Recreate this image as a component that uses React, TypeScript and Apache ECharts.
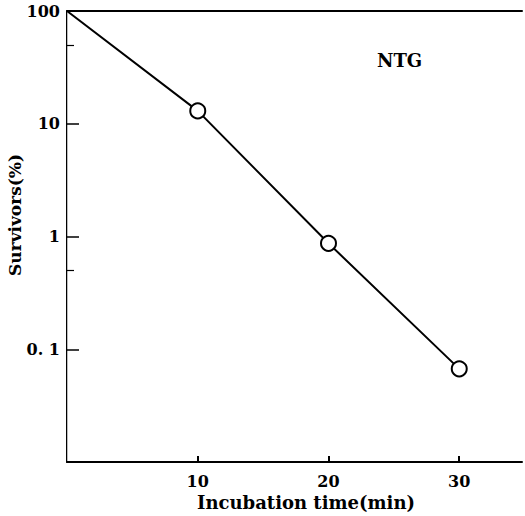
import React, { useEffect, useRef } from "react";
import * as echarts from "echarts";

const times = [0, 10, 20, 30];
const survivors = [100, 13, 0.87, 0.067];
const markerFlags = [false, true, true, true];
const xTicks = [10, 20, 30];
const yMinorTicks = [50, 0.5];
const yTickLabels: Record<string, string> = { "100": "100", "10": "10", "1": "1", "0.1": "0. 1" };
const titleText = "NTG";
const xName = "Incubation time(min)";
const yName = "Survivors(%)";

const FONT = "'DejaVu Serif', 'Liberation Serif', serif";

export default function App() {
  const ref = useRef<HTMLDivElement>(null);
  useEffect(() => {
    if (!ref.current) return;
    const chart = echarts.init(ref.current, null, { renderer: "svg" });
    const data = times.map((t, i) => ({
      value: [t, survivors[i]],
      symbol: markerFlags[i] ? "circle" : "none",
    }));
    const labelStyle = { fontFamily: FONT, fontWeight: "bold", fontSize: 16, color: "#000" };
    chart.setOption({
      animation: false,
      backgroundColor: "#fff",
      grid: { left: 67, right: 3, top: 11, bottom: 54 },
      graphic: [
        {
          type: "text",
          x: 377,
          y: 60,
          style: {
            text: titleText,
            font: `bold 18px ${FONT}`,
            fill: "#000",
            textVerticalAlign: "middle",
          } as any,
        },
        {
          type: "text",
          x: 306,
          y: 502,
          style: {
            text: xName,
            font: `bold 18px ${FONT}`,
            fill: "#000",
            textAlign: "center",
            textVerticalAlign: "middle",
          } as any,
        },
        {
          type: "text",
          x: 15,
          y: 215,
          rotation: Math.PI / 2,
          style: {
            text: yName,
            font: `bold 17px ${FONT}`,
            fill: "#000",
            textAlign: "center",
            textVerticalAlign: "middle",
          } as any,
        },
      ],
      xAxis: [
        {
          type: "value",
          min: 0,
          max: 34.8,
          interval: 5,
          axisLine: { show: true, lineStyle: { color: "#000", width: 2 } },
          axisTick: {
            show: true,
            inside: true,
            length: 6,
            lineStyle: { color: "#000", width: 2 },
            customValues: xTicks,
          },
          axisLabel: {
            show: true,
            customValues: xTicks,
            margin: 11,
            ...labelStyle,
          },
          splitLine: { show: false },
        },
        {
          type: "value",
          position: "top",
          min: 0,
          max: 34.8,
          axisLine: { show: true, onZero: false, lineStyle: { color: "#000", width: 2 } },
          axisTick: { show: false },
          axisLabel: { show: false },
          splitLine: { show: false },
        },
      ],
      yAxis: [
        {
          type: "log",
          logBase: 10,
          min: 0.01,
          max: 100,
          axisLine: { show: true, lineStyle: { color: "#000", width: 2 } },
          axisTick: { show: true, inside: true, length: 12, lineStyle: { color: "#000", width: 1.5 } },
          axisLabel: {
            margin: 7,
            ...labelStyle,
            formatter: (v: number) => {
              const k = String(+v.toPrecision(3));
              return yTickLabels[k] ?? "";
            },
          },
          splitLine: { show: false },
        },
        {
          type: "log",
          logBase: 10,
          min: 0.01,
          max: 100,
          position: "right",
          axisLine: { show: true, lineStyle: { color: "#bbb", width: 1 } },
          axisTick: { show: false },
          axisLabel: { show: false },
          splitLine: { show: false },
        },
        {
          type: "log",
          logBase: 10,
          min: 0.01,
          max: 100,
          position: "left",
          axisLine: { show: false },
          axisTick: {
            show: true,
            inside: true,
            length: 7,
            customValues: yMinorTicks,
            lineStyle: { color: "#000", width: 1.2 },
          },
          axisLabel: { show: false },
          splitLine: { show: false },
        },
      ],
      series: [
        {
          type: "line",
          data,
          symbolSize: 15,
          lineStyle: { color: "#000", width: 2 },
          itemStyle: { color: "#fff", borderColor: "#000", borderWidth: 2 },
          z: 5,
        },
      ],
    });
    return () => chart.dispose();
  }, []);
  return (
    <div
      ref={ref}
      style={{ position: "fixed", left: 0, top: 0, width: 525, height: 516 }}
    />
  );
}
